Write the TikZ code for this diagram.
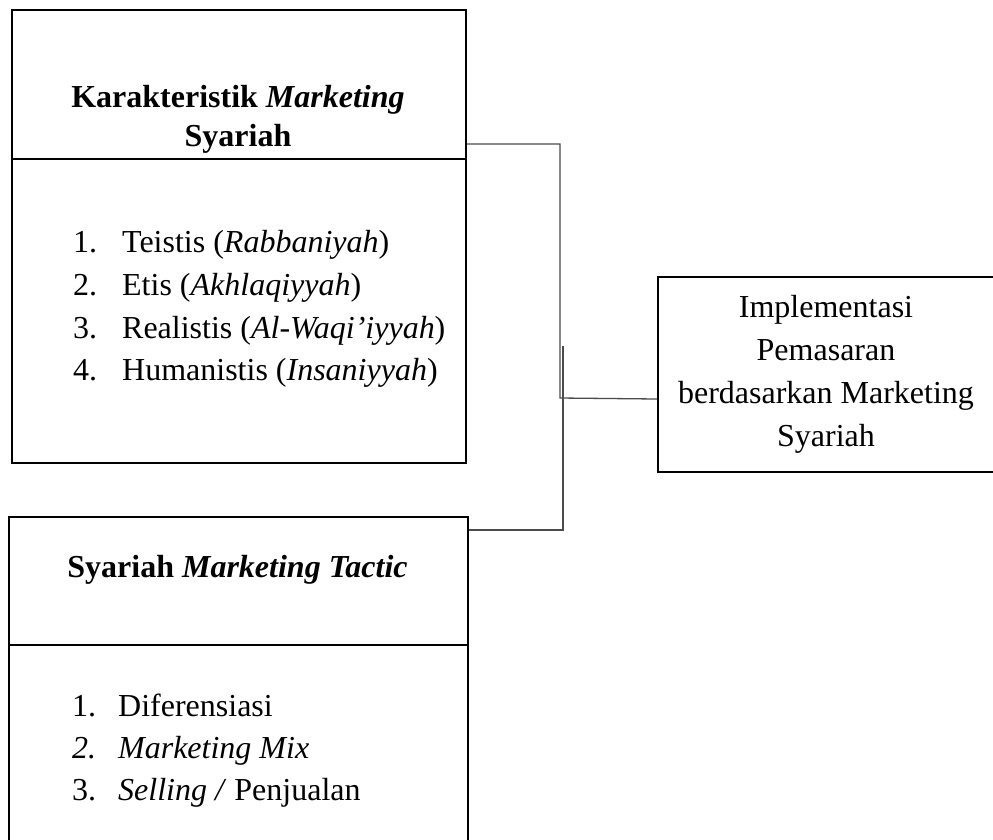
\documentclass[tikz,border=0pt]{standalone}
\usepackage{fontspec}
\setmainfont{Liberation Serif}
\begin{document}
\begin{tikzpicture}[x=1pt,y=-1pt,
  boxpart/.style={draw=black,line width=2pt,rectangle,anchor=north west,inner sep=0pt},
  conn/.style={draw=black!70,line width=1.3pt},
  txt/.style={inner sep=0pt,font=\fontsize{32}{43}\selectfont},
  ttl/.style={inner sep=0pt,font=\fontsize{32}{40}\selectfont\bfseries}]
\clip (0,0) rectangle (993,839);
\fill[white] (0,0) rectangle (993,839);
% box 1
\node[boxpart,minimum width=454pt,minimum height=149pt] (kh) at (11,9) {};
\node[boxpart,minimum width=454pt,minimum height=304pt] (kb) at (11,158) {};
% box 2
\node[boxpart,minimum width=459pt,minimum height=128pt] (th) at (8,516) {};
\node[boxpart,minimum width=459pt,minimum height=240pt] (tb) at (8,644) {};
% right box
\node[boxpart,minimum width=360pt,minimum height=195pt] (r) at (657,276) {};
% texts box 1
\node[ttl,anchor=base] (kt1) at (238,107) {Karakteristik \textit{Marketing}};
\node[ttl,anchor=base] (kt2) at (238,146) {Syariah};
\node[txt,anchor=base west] (k1) at (73,252) {\makebox[49pt][l]{1.}Teistis (\textit{Rabbaniyah})};
\node[txt,anchor=base west] (k2) at (73,295) {\makebox[49pt][l]{2.}Etis (\textit{Akhlaqiyyah})};
\node[txt,anchor=base west] (k3) at (73,338) {\makebox[49pt][l]{3.}Realistis (\textit{Al-Waqi’iyyah})};
\node[txt,anchor=base west] (k4) at (73,380) {\makebox[49pt][l]{4.}Humanistis (\textit{Insaniyyah})};
% texts box 2
\node[ttl,anchor=base] (tt1) at (237.5,577) {Syariah \textit{Marketing Tactic}};
\node[txt,anchor=base west] (t1) at (72,716) {\makebox[46pt][l]{1.}Diferensiasi};
\node[txt,anchor=base west] (t2) at (72,758) {\itshape\makebox[46pt][l]{2.}Marketing Mix};
\node[txt,anchor=base west] (t3) at (72,800) {\makebox[46pt][l]{3.}\textit{Selling /} Penjualan};
% texts right box
\node[txt,anchor=base] (r1) at (826,317) {Implementasi};
\node[txt,anchor=base] (r2) at (826,360) {Pemasaran};
\node[txt,anchor=base] (r3) at (826,403) {berdasarkan Marketing};
\node[txt,anchor=base] (r4) at (826,446) {Syariah};
% connectors
\coordinate (j1) at (560,398);
\coordinate (j2) at (563,346);
\draw[conn] ([yshift=16pt]kh.south east) -| (j1) -- ([yshift=-24.5pt]r.west);
\draw[conn] ([yshift=-14pt]th.north east) -| (j2);
\end{tikzpicture}
\end{document}
